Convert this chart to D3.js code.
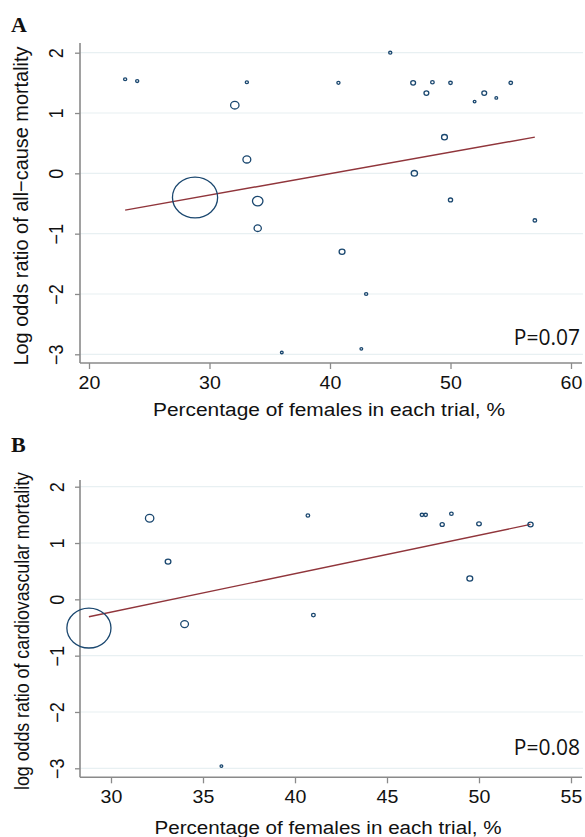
<!DOCTYPE html>
<html><head><meta charset="utf-8">
<script src="https://cdn.jsdelivr.net/npm/d3@7"></script>
<style>
html,body{margin:0;padding:0;background:#fff;}
svg{display:block;}
</style></head>
<body>
<script>
// ---------- Panel A data: all-cause mortality ----------
const femalesA = [23, 24, 33.1, 32.1, 33.1, 28.8, 34.0, 34.0, 36.0, 45.0, 40.7, 46.9, 48.5, 50.0, 48.0, 52.8, 52.0, 53.8, 55.0, 49.5, 47.0, 50.0, 57.0, 41.0, 43.0, 42.6];
const logOrA  = [1.56, 1.53, 1.51, 1.13, 0.23, -0.40, -0.46, -0.91, -2.97, 2.0, 1.50, 1.50, 1.51, 1.50, 1.33, 1.33, 1.19, 1.25, 1.50, 0.60, 0.00, -0.44, -0.78, -1.30, -2.0, -2.91];
const weightA = [2.3, 2.3, 2.3, 16, 14, 462, 25, 12, 1.7, 2.3, 2.3, 5.3, 2.9, 2.9, 5.3, 5.3, 1.7, 1.7, 2.9, 7.8, 9, 4, 2.9, 7.8, 2.3, 1.7];
const fitA_x = [23, 57];
const fitA_y = [-0.61, 0.60];
const xTicksA = [20, 30, 40, 50, 60];
const yTicks = [-3, -2, -1, 0, 1, 2];

// ---------- Panel B data: cardiovascular mortality ----------
const femalesB = [32.1, 33.1, 28.8, 34.0, 36.0, 40.7, 46.9, 47.1, 48.5, 48.0, 50.0, 52.8, 49.5, 41.0];
const logOrB  = [1.44, 0.67, -0.51, -0.44, -2.96, 1.49, 1.50, 1.50, 1.52, 1.33, 1.34, 1.33, 0.37, -0.28];
const weightB = [16, 7.3, 441, 13.7, 1.7, 2.9, 2.9, 2.9, 2.9, 4, 4.8, 6.3, 7.8, 3.2];
const fitB_x = [28.8, 52.8];
const fitB_y = [-0.31, 1.33];
const xTicksB = [30, 35, 40, 45, 50, 55];

const NAVY = "#1a476f", MAROON = "#90353b", GRID = "#e8f0f2", AXIS = "#8a8a8a";
const FONT = "'Liberation Sans', Arial, Helvetica, sans-serif";

const svg = d3.select("body").append("svg").attr("width", 585).attr("height", 837);
svg.append("rect").attr("width",585).attr("height",837).attr("fill","#fff");

function panel(cfg) {
  const g = svg.append("g");
  const x = d3.scaleLinear().domain(cfg.xDom).range(cfg.xRange);
  const y = d3.scaleLinear().domain([-3, 2]).range(cfg.yRange);
  const r = d3.scaleSqrt().domain([0, 462]).range([0, 21.5]);

  // gridlines
  g.selectAll(".grid").data(yTicks).join("line")
    .attr("x1", 80).attr("x2", 583)
    .attr("y1", d => y(d)).attr("y2", d => y(d))
    .attr("stroke", GRID).attr("stroke-width", 1.2);

  // x axis
  const xa = g.append("g").attr("transform", `translate(0,${cfg.axisY})`)
    .call(d3.axisBottom(x).tickValues(cfg.xTicks).tickSize(6).tickPadding(8).tickSizeOuter(0));
  xa.select(".domain").remove();
  xa.selectAll(".tick line").attr("stroke", AXIS).attr("stroke-width", 1.3);
  xa.selectAll(".tick text").attr("font-family", FONT).attr("font-size", 17.5)
    .attr("fill", "#111").attr("y", cfg.xLabelDy).attr("dy", 0)
    .attr("transform", "scale(1.12,1)");
  g.append("line").attr("x1", 80).attr("x2", 582).attr("y1", cfg.axisY).attr("y2", cfg.axisY)
    .attr("stroke", AXIS).attr("stroke-width", 1.6);

  // y axis
  const ya = g.append("g").attr("transform", "translate(80,0)")
    .call(d3.axisLeft(y).tickValues(yTicks).tickSize(5).tickFormat(d3.format("d")).tickSizeOuter(0));
  ya.select(".domain").remove();
  ya.selectAll(".tick line").attr("stroke", AXIS).attr("stroke-width", 1.3);
  ya.selectAll(".tick text").attr("font-family", FONT).attr("font-size", 18)
    .attr("fill", "#111").attr("x", 0).attr("dy", 0).attr("text-anchor", "middle")
    .attr("transform", `translate(${cfg.yLabelX - 80},0) scale(1.1,1) rotate(-90)`)
    .text(d => d < 0 ? "\u2212" + Math.abs(d) : d);
  g.append("line").attr("x1", 80).attr("x2", 80).attr("y1", cfg.axisTop).attr("y2", cfg.axisY)
    .attr("stroke", AXIS).attr("stroke-width", 1.6);

  // fitted line
  const fit = cfg.fitX.map((d, i) => [d, cfg.fitY[i]]);
  g.append("path").datum(fit)
    .attr("d", d3.line().x(d => x(d[0])).y(d => y(d[1])))
    .attr("stroke", MAROON).attr("stroke-width", 1.4).attr("fill", "none");

  // bubbles
  const pts = cfg.xs.map((d, i) => ({x: d, y: cfg.ys[i], w: cfg.ws[i]}));
  g.selectAll(".pt").data(pts).join("ellipse")
    .attr("cx", d => x(d.x)).attr("cy", d => y(d.y))
    .attr("rx", d => r(d.w) * 1.05).attr("ry", d => r(d.w) * 0.95)
    .attr("fill", "none").attr("stroke", NAVY).attr("stroke-width", 1.3);

  // axis titles
  g.append("text").attr("font-family", FONT).attr("font-size", 18).attr("fill", "#111")
    .attr("text-anchor", "middle").attr("x", cfg.xTitleX).attr("y", cfg.xTitleY)
    .attr("textLength", cfg.xTitleLen).attr("lengthAdjust", "spacingAndGlyphs")
    .text("Percentage of females in each trial, %");
  g.append("text").attr("font-family", FONT).attr("font-size", 20.5).attr("fill", "#111")
    .attr("text-anchor", "middle")
    .attr("transform", `translate(${cfg.yTitleX},${cfg.yTitleY}) rotate(-90)`)
    .attr("textLength", cfg.yTitleLen).attr("lengthAdjust", "spacingAndGlyphs")
    .text(cfg.yTitle);

  // P value
  g.append("text").attr("font-family", "'Open Sans', 'Noto Sans', sans-serif").attr("font-size", 21)
    .attr("fill", "#111").attr("text-anchor", "end").attr("x", 580).attr("y", cfg.pY)
    .text(cfg.pText);

  // panel letter
  g.append("text").attr("font-family", "'Liberation Serif', 'Times New Roman', serif")
    .attr("font-weight", "bold").attr("font-size", 22).attr("fill", "#111")
    .attr("x", 11).attr("y", cfg.letterY).text(cfg.letter);
}

panel({
  xDom: [20, 60], xRange: [89, 571], yRange: [354.3, 52.7],
  axisY: 363, axisTop: 43, xTicks: xTicksA, xLabelDy: 26,
  yLabelX: 63, xs: femalesA, ys: logOrA, ws: weightA, fitX: fitA_x, fitY: fitA_y,
  xTitleX: 329, xTitleY: 416, xTitleLen: 352,
  yTitleX: 28, yTitleY: 206, yTitleLen: 319,
  yTitle: "Log odds ratio of all\u2212cause mortality",
  pText: "P=0.07", pY: 345, letter: "A", letterY: 32
});

panel({
  xDom: [30, 55], xRange: [111, 571], yRange: [768.3, 486.7],
  axisY: 777.3, axisTop: 480, xTicks: xTicksB, xLabelDy: 26,
  yLabelX: 64, xs: femalesB, ys: logOrB, ws: weightB, fitX: fitB_x, fitY: fitB_y,
  xTitleX: 328, xTitleY: 834, xTitleLen: 347,
  yTitleX: 29, yTitleY: 631, yTitleLen: 318,
  yTitle: "log odds ratio of cardiovascular mortality",
  pText: "P=0.08", pY: 755, letter: "B", letterY: 452
});
</script>
</body></html>
